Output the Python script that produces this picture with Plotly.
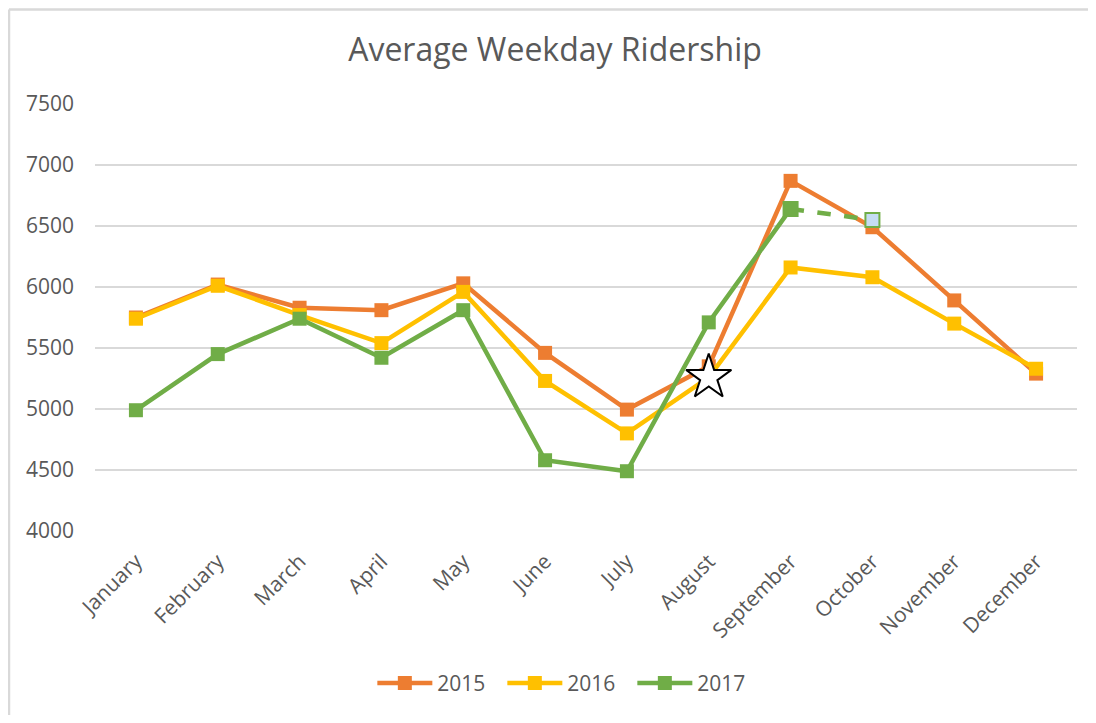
import plotly.graph_objects as go

# chart data
months = ["January", "February", "March", "April", "May", "June",
          "July", "August", "September", "October", "November", "December"]
riders_2015 = [5750, 6020, 5830, 5810, 6030, 5460, 4995, 5350, 6870, 6490, 5890, 5290]
riders_2016 = [5740, 6010, 5770, 5540, 5960, 5230, 4800, 5260, 6160, 6080, 5700, 5330]
riders_2017 = [4990, 5450, 5740, 5420, 5810, 4580, 4490, 5710, 6640]
october_2017_est = 6550
star_month = "August"
y_ticks = [4000, 4500, 5000, 5500, 6000, 6500, 7000, 7500]

FONT = "Open Sans, Noto Sans, sans-serif"
GREY = "#595959"
COLORS = {"2015": "#ED7D31", "2016": "#FFC000", "2017": "#70AD47"}

# the page body adds an 8px margin, keep the figure inside the window
W, H = 1080, 707

fig = go.Figure()

for name, vals in [("2015", riders_2015), ("2016", riders_2016), ("2017", riders_2017)]:
    fig.add_trace(go.Scatter(
        x=months[:len(vals)], y=vals, name=name, mode="lines+markers",
        line=dict(color=COLORS[name], width=4.5),
        marker=dict(symbol="square", size=14, color=COLORS[name]),
    ))

# projected October 2017 value, dashed
fig.add_trace(go.Scatter(
    x=months[8:10], y=[riders_2017[-1], october_2017_est], mode="lines+markers",
    line=dict(color=COLORS["2017"], width=4.5, dash="dash"),
    marker=dict(symbol="square", size=14, color=[COLORS["2017"], "#C5DCF3"],
                line=dict(color=COLORS["2017"], width=2)),
    showlegend=False, hoverinfo="skip",
))

# star on the August 2016 point
fig.add_trace(go.Scatter(
    x=[star_month], y=[riders_2016[months.index(star_month)]], mode="markers",
    marker=dict(symbol="star", size=34, color="white", line=dict(color="black", width=2)),
    showlegend=False, hoverinfo="skip",
))

# chart frame: only the left and top edges fall inside the picture
frame = dict(color="#D9D9D9", width=2.5)
x_left = -86 / 982
y_top = 1 + 95 / 429

fig.update_layout(
    width=W, height=H,
    margin=dict(l=87, r=11, t=96, b=182),
    paper_bgcolor="white", plot_bgcolor="white",
    font=dict(family=FONT, color=GREY, size=21),
    title=dict(text="Average Weekday Ridership", x=547 / W, xanchor="center",
               y=1 - 42 / H, yanchor="middle", yref="container",
               font=dict(family=FONT, size=32, color=GREY)),
    legend=dict(orientation="h", x=0.481, xanchor="center", y=-0.357, yanchor="middle",
                font=dict(size=21, color=GREY), itemwidth=55, entrywidth=60,
                traceorder="normal"),
    showlegend=True,
    shapes=[
        dict(type="line", xref="paper", yref="paper", x0=x_left, x1=x_left,
             y0=-0.6, y1=y_top, line=frame, layer="below"),
        dict(type="line", xref="paper", yref="paper", x0=x_left, x1=1.2,
             y0=y_top, y1=y_top, line=frame, layer="below"),
    ],
)

fig.update_xaxes(type="category", categoryorder="array", categoryarray=months,
                 range=[-0.5, 11.5], tickangle=-45, showgrid=False, showline=False,
                 zeroline=False, ticks="", ticklabelstandoff=13,
                 tickfont=dict(size=21, color=GREY))
fig.update_yaxes(range=[4000, 7500], tickvals=y_ticks, showgrid=True,
                 gridcolor="#D9D9D9", gridwidth=1.5, zeroline=False, showline=False,
                 ticks="", ticklabelstandoff=20, tickfont=dict(size=21, color=GREY))

fig.write_html("out.html")
